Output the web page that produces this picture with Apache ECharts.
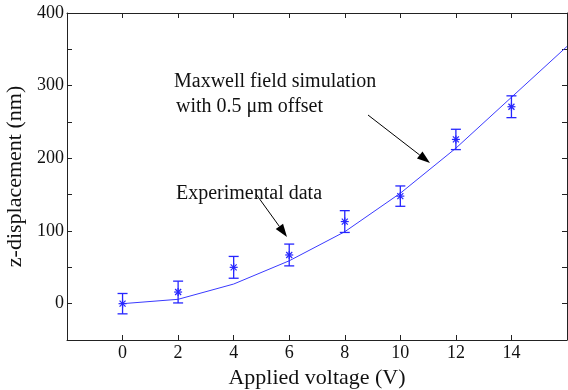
<!DOCTYPE html>
<html>
<head>
<meta charset="utf-8">
<script src="https://cdn.jsdelivr.net/npm/echarts@6/dist/echarts.min.js"></script>
<style>
html,body{margin:0;padding:0;background:#fff;overflow:hidden;}
#c{width:568px;height:390px;}
</style>
</head>
<body>
<div id="c"></div>
<script>
// Data
const xValues = [0, 2, 4, 6, 8, 10, 12, 14];
const expMeans = [0, 16, 50, 67, 113, 148, 226, 271];
const expErrors = [14, 15, 15, 15, 15, 14, 14, 15];
const simX = [0, 2, 4, 6, 8, 10, 12, 14, 16];
const simY = [0, 6, 27, 59, 99, 152, 214, 284, 354];
const xTickLabels = ['0', '2', '4', '6', '8', '10', '12', '14'];
const yTickLabels = ['0', '100', '200', '300', '400'];

const FONT = 'Liberation Serif';
const BLUE = '#2626ff';

const expData = xValues.map((x, i) => [x, expMeans[i], expErrors[i]]);
const simData = simX.map((x, i) => [x, simY[i]]);

function arrow(x1, y1, x2, y2) {
  const ang = Math.atan2(y2 - y1, x2 - x1);
  const L = 13, W = 4.5;
  const bx = x2 - L * Math.cos(ang), by = y2 - L * Math.sin(ang);
  const px = -Math.sin(ang) * W, py = Math.cos(ang) * W;
  return [
    { type: 'line', shape: { x1: x1, y1: y1, x2: bx, y2: by }, style: { stroke: '#000', lineWidth: 1 } },
    { type: 'polygon', shape: { points: [[x2, y2], [bx + px, by + py], [bx - px, by - py]] }, style: { fill: '#000' } }
  ];
}

const chart = echarts.init(document.getElementById('c'), null, { renderer: 'canvas' });
const axisLineStyle = { color: '#222', width: 1 };
const option = {
  animation: false,
  textStyle: { fontFamily: FONT },
  grid: { left: 67, top: 13, right: 1, bottom: 50, containLabel: false, outerBoundsMode: 'none' },
  xAxis: [
    {
      type: 'value', min: -2, max: 16, interval: 2,
      axisLine: { show: true, onZero: false, lineStyle: axisLineStyle },
      axisTick: { show: true, inside: true, length: 5, lineStyle: axisLineStyle },
      splitLine: { show: false },
      axisLabel: {
        fontFamily: FONT, fontSize: 18, color: '#111', margin: 4,
        showMinLabel: false, showMaxLabel: false,
        formatter: v => (xTickLabels.indexOf(String(v)) >= 0 ? String(v) : '')
      },
      name: 'Applied voltage (V)', nameLocation: 'middle', nameGap: 18,
      nameTextStyle: { fontFamily: FONT, fontSize: 22, color: '#111' }
    },
    {
      type: 'value', position: 'top', min: -2, max: 16, interval: 2,
      axisLine: { show: true, onZero: false, lineStyle: axisLineStyle },
      axisTick: { show: true, inside: true, length: 5, lineStyle: axisLineStyle },
      axisLabel: { show: false }, splitLine: { show: false }
    }
  ],
  yAxis: [
    {
      type: 'value', min: -50, max: 400, interval: 50,
      axisLine: { show: true, onZero: false, lineStyle: axisLineStyle },
      axisTick: { show: true, inside: true, length: 5, lineStyle: axisLineStyle },
      splitLine: { show: false },
      axisLabel: {
        fontFamily: FONT, fontSize: 18, color: '#111', margin: 3,
        formatter: v => (yTickLabels.indexOf(String(v)) >= 0 ? String(v) : '')
      },
      name: 'z-displacement (nm)', nameLocation: 'middle', nameGap: 34,
      nameTextStyle: { fontFamily: FONT, fontSize: 22, color: '#111' }
    },
    {
      type: 'value', position: 'right', min: -50, max: 400, interval: 50,
      axisLine: { show: true, onZero: false, lineStyle: axisLineStyle },
      axisTick: { show: true, inside: true, length: 5, lineStyle: axisLineStyle },
      axisLabel: { show: false }, splitLine: { show: false }
    }
  ],
  series: [
    {
      type: 'line', data: simData, showSymbol: false, symbol: 'none',
      lineStyle: { color: '#3a3aff', width: 1 }, z: 2
    },
    {
      type: 'custom', data: expData, encode: { x: 0, y: 1 }, z: 3,
      renderItem: function (params, api) {
        const x = api.value(0), m = api.value(1), e = api.value(2);
        const t = api.coord([x, m + e]), b = api.coord([x, m - e]), c = api.coord([x, m]);
        const cap = 5, r = 4, d = 3;
        const st = { stroke: BLUE, lineWidth: 1.3 };
        const ln = (x1, y1, x2, y2, s) => ({ type: 'line', shape: { x1, y1, x2, y2 }, style: s || st });
        const ms = { stroke: BLUE, lineWidth: 1.2 };
        return {
          type: 'group',
          children: [
            ln(t[0], t[1], b[0], b[1]),
            ln(t[0] - cap, t[1], t[0] + cap, t[1]),
            ln(b[0] - cap, b[1], b[0] + cap, b[1]),
            ln(c[0] - r, c[1], c[0] + r, c[1], ms),
            ln(c[0], c[1] - r, c[0], c[1] + r, ms),
            ln(c[0] - d, c[1] - d, c[0] + d, c[1] + d, ms),
            ln(c[0] - d, c[1] + d, c[0] + d, c[1] - d, ms)
          ]
        };
      }
    }
  ],
  graphic: [
    { type: 'text', left: 174, top: 72, style: { text: 'Maxwell field simulation', fontFamily: FONT, fontSize: 20, fill: '#111' } },
    { type: 'text', left: 176, top: 97, style: { text: 'with 0.5 \u03bcm offset', fontFamily: FONT, fontSize: 20, fill: '#111' } },
    { type: 'text', left: 176, top: 184, style: { text: 'Experimental data', fontFamily: FONT, fontSize: 20, fill: '#111' } }
  ].concat(arrow(368, 115, 430, 163)).concat(arrow(256, 194, 287, 237))
};
chart.setOption(option);
</script>
</body>
</html>
